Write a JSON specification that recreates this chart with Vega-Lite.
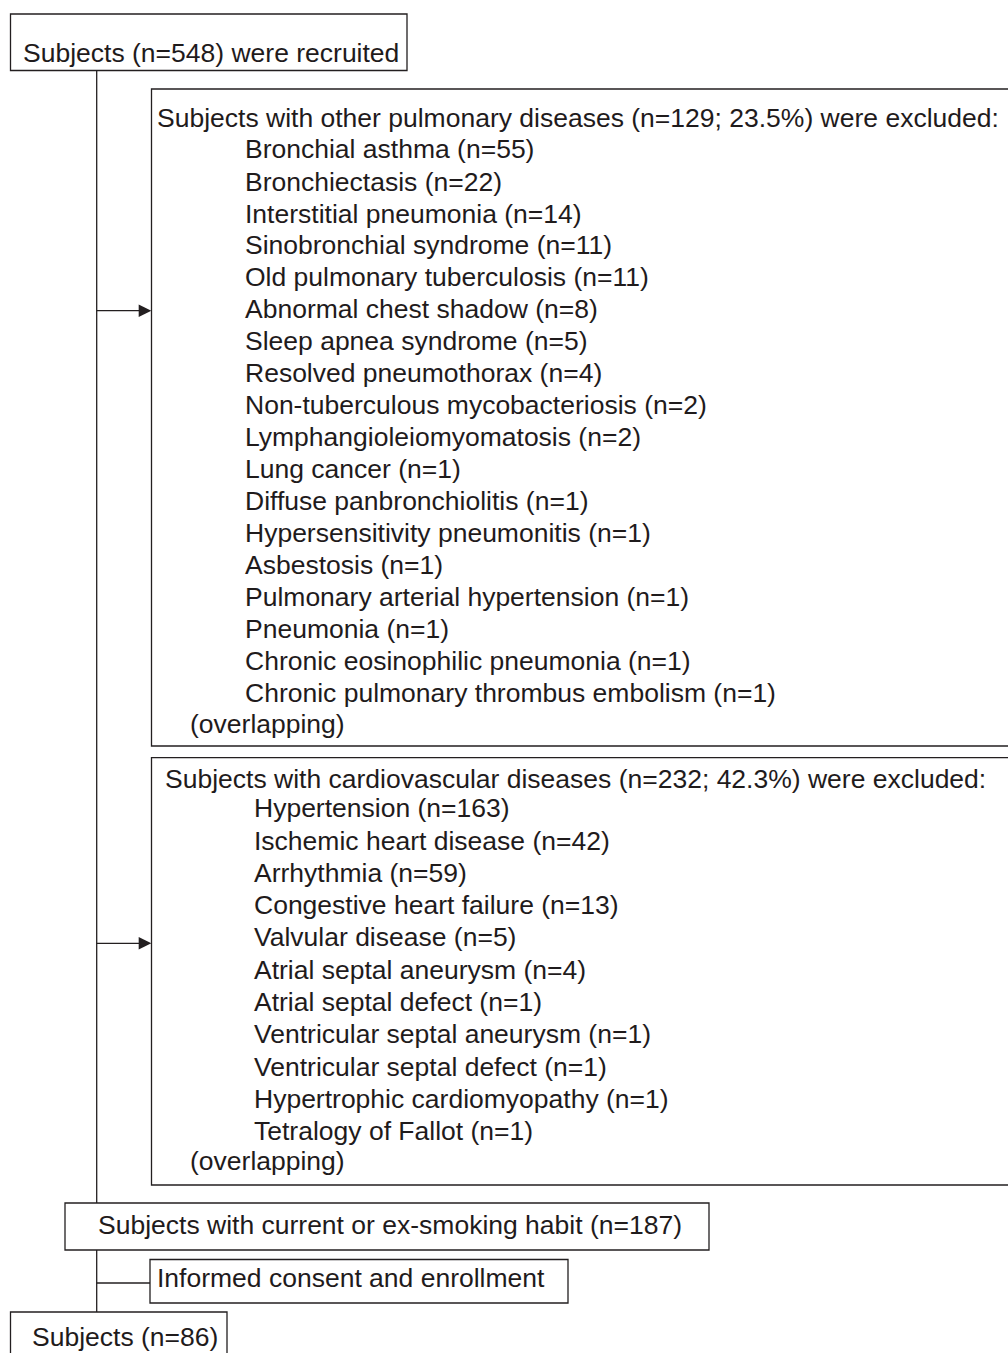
{
  "$schema": "https://vega.github.io/schema/vega-lite/v6.json",
  "width": 1008,
  "height": 1353,
  "padding": 0,
  "autosize": {"type": "none"},
  "background": "white",
  "config": {"view": {"stroke": null}},
  "datasets": {
    "boxes": [
      {"name": "recruited", "x1": 10.5, "x2": 407, "y1": 14, "y2": 70.5},
      {"name": "pulmonary", "x1": 151.5, "x2": 1030, "y1": 89, "y2": 746},
      {"name": "cardio", "x1": 151.5, "x2": 1030, "y1": 757.7, "y2": 1185},
      {"name": "smoking", "x1": 65, "x2": 709, "y1": 1203, "y2": 1250},
      {"name": "consent", "x1": 150, "x2": 568, "y1": 1259.5, "y2": 1303},
      {"name": "final", "x1": 10.5, "x2": 227, "y1": 1312, "y2": 1380}
    ],
    "lines": [
      {"x1": 96.7, "x2": 96.7, "y1": 70.5, "y2": 1203},
      {"x1": 96.7, "x2": 96.7, "y1": 1250, "y2": 1312},
      {"x1": 96.7, "x2": 145, "y1": 310.7, "y2": 310.7},
      {"x1": 96.7, "x2": 145, "y1": 943.3, "y2": 943.3},
      {"x1": 96.7, "x2": 150, "y1": 1283, "y2": 1283}
    ],
    "arrows": [
      {"x": 145, "y": 310.7},
      {"x": 145, "y": 943.3}
    ],
    "labels": [
      {"text": "Subjects (n=548) were recruited", "x": 23, "y": 61.5},
      {"text": "Subjects with other pulmonary diseases (n=129; 23.5%) were excluded:", "x": 157, "y": 127},
      {"text": "Bronchial asthma (n=55)", "x": 245, "y": 158},
      {"text": "Bronchiectasis (n=22)", "x": 245, "y": 190.5},
      {"text": "Interstitial pneumonia (n=14)", "x": 245, "y": 222.5},
      {"text": "Sinobronchial syndrome (n=11)", "x": 245, "y": 254},
      {"text": "Old pulmonary tuberculosis (n=11)", "x": 245, "y": 286},
      {"text": "Abnormal chest shadow (n=8)", "x": 245, "y": 318},
      {"text": "Sleep apnea syndrome (n=5)", "x": 245, "y": 350},
      {"text": "Resolved pneumothorax (n=4)", "x": 245, "y": 382},
      {"text": "Non-tuberculous mycobacteriosis (n=2)", "x": 245, "y": 414},
      {"text": "Lymphangioleiomyomatosis (n=2)", "x": 245, "y": 446},
      {"text": "Lung cancer (n=1)", "x": 245, "y": 478},
      {"text": "Diffuse panbronchiolitis (n=1)", "x": 245, "y": 510},
      {"text": "Hypersensitivity pneumonitis (n=1)", "x": 245, "y": 542},
      {"text": "Asbestosis (n=1)", "x": 245, "y": 574},
      {"text": "Pulmonary arterial hypertension (n=1)", "x": 245, "y": 606},
      {"text": "Pneumonia (n=1)", "x": 245, "y": 638},
      {"text": "Chronic eosinophilic pneumonia (n=1)", "x": 245, "y": 670},
      {"text": "Chronic pulmonary thrombus embolism (n=1)", "x": 245, "y": 702},
      {"text": "(overlapping)", "x": 190, "y": 733},
      {"text": "Subjects with cardiovascular diseases (n=232; 42.3%) were excluded:", "x": 165, "y": 788},
      {"text": "Hypertension (n=163)", "x": 254, "y": 817},
      {"text": "Ischemic heart disease (n=42)", "x": 254, "y": 849.5},
      {"text": "Arrhythmia (n=59)", "x": 254, "y": 881.5},
      {"text": "Congestive heart failure (n=13)", "x": 254, "y": 914},
      {"text": "Valvular disease (n=5)", "x": 254, "y": 946},
      {"text": "Atrial septal aneurysm (n=4)", "x": 254, "y": 978.5},
      {"text": "Atrial septal defect (n=1)", "x": 254, "y": 1011},
      {"text": "Ventricular septal aneurysm (n=1)", "x": 254, "y": 1043},
      {"text": "Ventricular septal defect (n=1)", "x": 254, "y": 1075.5},
      {"text": "Hypertrophic cardiomyopathy (n=1)", "x": 254, "y": 1107.5},
      {"text": "Tetralogy of Fallot (n=1)", "x": 254, "y": 1140},
      {"text": "(overlapping)", "x": 190, "y": 1170},
      {"text": "Subjects with current or ex-smoking habit (n=187)", "x": 98, "y": 1234},
      {"text": "Informed consent and enrollment", "x": 157, "y": 1287},
      {"text": "Subjects (n=86)", "x": 32, "y": 1345.5}
    ]
  },
  "layer": [
    {
      "data": {"name": "boxes"},
      "mark": {"type": "rect", "fill": "white", "fillOpacity": 0, "stroke": "#231f20", "strokeWidth": 1.3, "clip": true},
      "encoding": {
        "x": {"field": "x1", "type": "quantitative", "scale": {"domain": [0, 1008], "nice": false, "zero": false}, "axis": null},
        "x2": {"field": "x2"},
        "y": {"field": "y1", "type": "quantitative", "scale": {"domain": [0, 1353], "nice": false, "zero": false, "reverse": true}, "axis": null},
        "y2": {"field": "y2"}
      }
    },
    {
      "data": {"name": "lines"},
      "mark": {"type": "rule", "stroke": "#231f20", "strokeWidth": 1.3},
      "encoding": {
        "x": {"field": "x1", "type": "quantitative", "scale": {"domain": [0, 1008], "nice": false, "zero": false}, "axis": null},
        "x2": {"field": "x2"},
        "y": {"field": "y1", "type": "quantitative", "scale": {"domain": [0, 1353], "nice": false, "zero": false, "reverse": true}, "axis": null},
        "y2": {"field": "y2"}
      }
    },
    {
      "data": {"name": "arrows"},
      "mark": {"type": "point", "shape": "M-1,-1L1,0L-1,1Z", "filled": true, "size": 160, "color": "#231f20", "opacity": 1, "strokeWidth": 0},
      "encoding": {
        "x": {"field": "x", "type": "quantitative", "scale": {"domain": [0, 1008], "nice": false, "zero": false}, "axis": null},
        "y": {"field": "y", "type": "quantitative", "scale": {"domain": [0, 1353], "nice": false, "zero": false, "reverse": true}, "axis": null}
      }
    },
    {
      "data": {"name": "labels"},
      "mark": {"type": "text", "align": "left", "baseline": "alphabetic", "font": "Liberation Sans", "fontSize": 26.5, "color": "#1f1b1c"},
      "encoding": {
        "x": {"field": "x", "type": "quantitative", "scale": {"domain": [0, 1008], "nice": false, "zero": false}, "axis": null},
        "y": {"field": "y", "type": "quantitative", "scale": {"domain": [0, 1353], "nice": false, "zero": false, "reverse": true}, "axis": null},
        "text": {"field": "text"}
      }
    }
  ]
}
